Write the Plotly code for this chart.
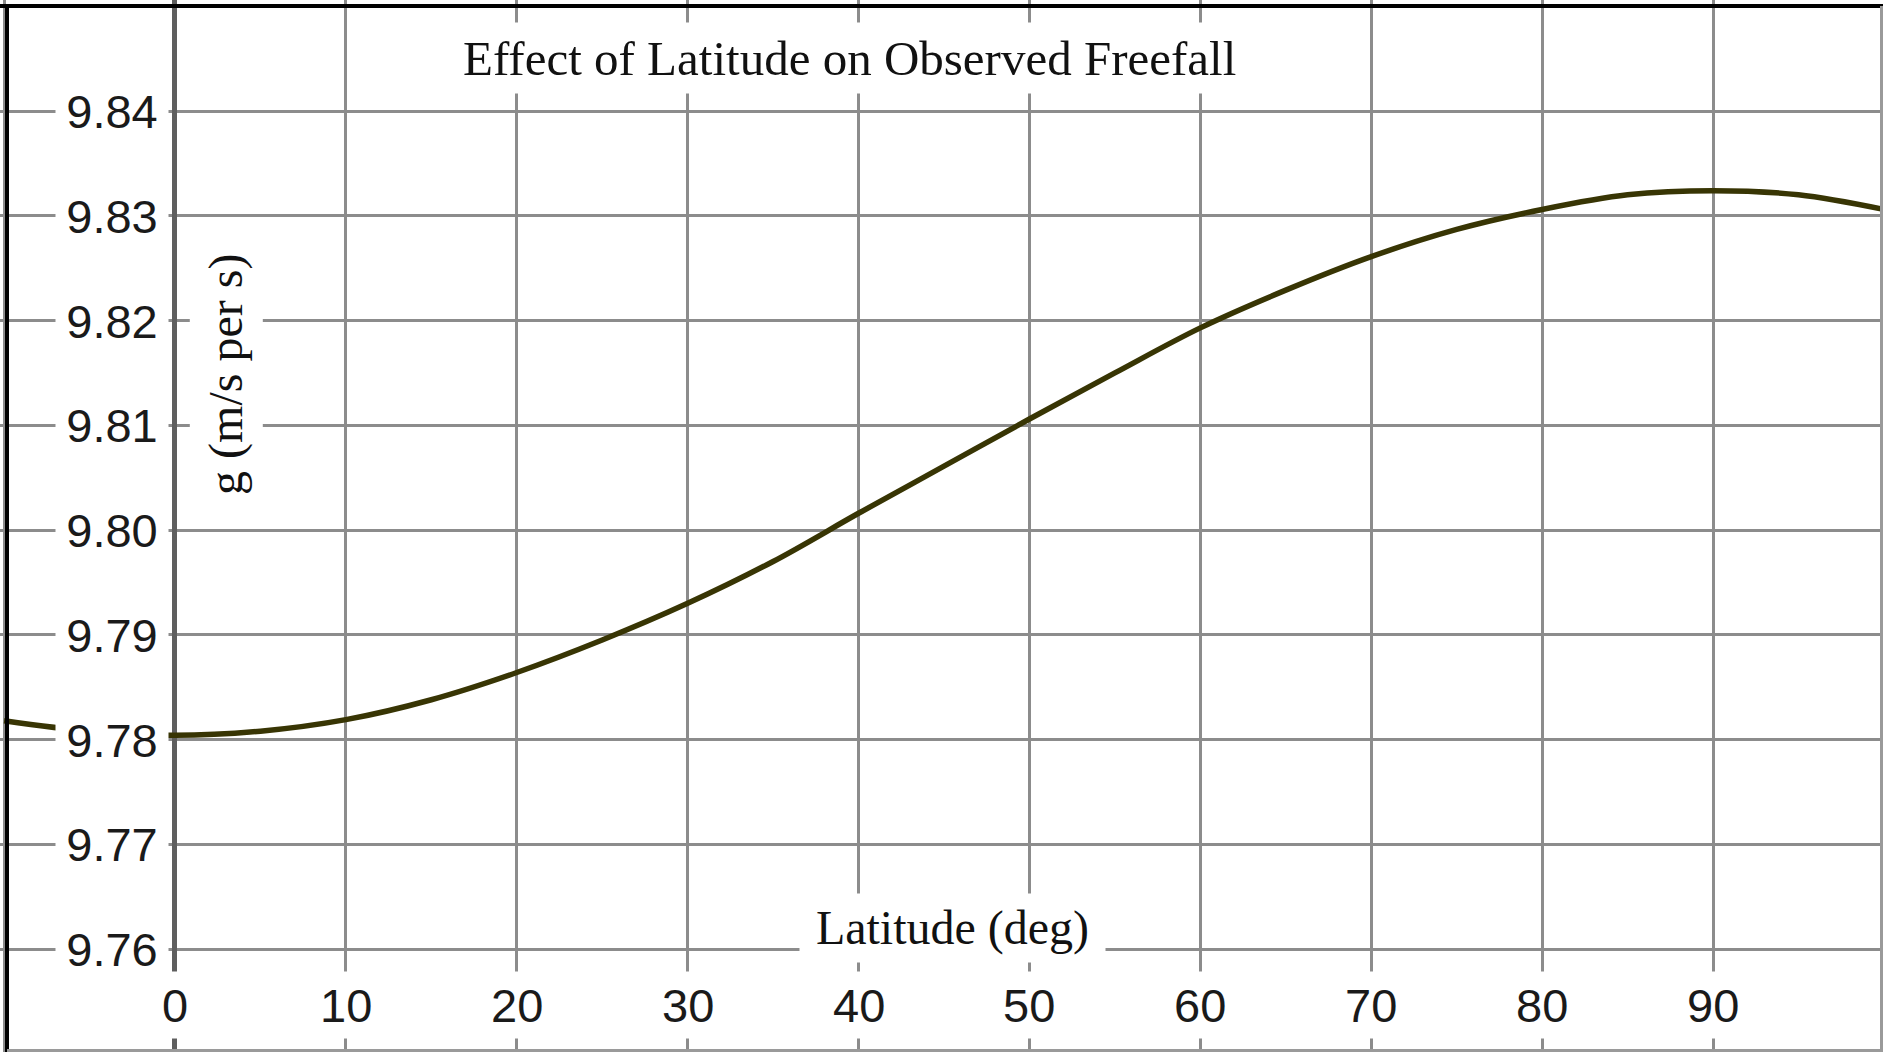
import plotly.graph_objects as go

# ---- data ----
latitude = [-10, -5, 0, 5, 10, 15, 20, 25, 30, 35, 40, 45, 50, 55, 60, 65, 70, 75, 80, 85, 90, 95, 100]
g_values = [9.7818, 9.7808, 9.7804, 9.7808, 9.7819, 9.7838, 9.7864, 9.7895, 9.7930, 9.7970,
            9.8016, 9.8061, 9.8106, 9.8150, 9.8193, 9.8229, 9.8261, 9.8287, 9.8306, 9.8320,
            9.8324, 9.8320, 9.8306]

x_ticks = [0, 10, 20, 30, 40, 50, 60, 70, 80, 90]
x_tick_labels = ["0", "10", "20", "30", "40", "50", "60", "70", "80", "90"]
y_ticks = [9.76, 9.77, 9.78, 9.79, 9.80, 9.81, 9.82, 9.83, 9.84]
y_tick_labels = ["9.76", "9.77", "9.78", "9.79", "9.80", "9.81", "9.82", "9.83", "9.84"]

title_text = "Effect of Latitude on Observed Freefall"
x_title = "Latitude (deg)"
y_title = "g (m/s per s)"

W, H = 1883, 1052
X_RANGE = [-10.24, 99.947]
Y_RANGE = [9.75017, 9.85060]

GRID = "#8c8c8c"
CURVE = "#383504"
SERIF = "Liberation Serif, Times New Roman, serif"
SANS = "Liberation Sans, Arial, sans-serif"

fig = go.Figure()
fig.add_trace(go.Scatter(
    x=latitude, y=g_values, mode="lines",
    line=dict(color=CURVE, width=5.5, shape="spline", smoothing=1.0),
    hoverinfo="skip", showlegend=False,
))

annotations = []
# y tick labels (left of the vertical axis, white boxes)
for v, lab in zip(y_ticks, y_tick_labels):
    annotations.append(dict(
        x=-3.7, y=v, xref="x", yref="y", text=lab, showarrow=False,
        font=dict(family=SANS, size=47, color="#1a1a1a"),
        bgcolor="white", width=112, height=52, borderpad=0,
        xanchor="center", yanchor="middle",
    ))
# x tick labels (below the 9.76 line, white boxes)
for v, lab in zip(x_ticks, x_tick_labels):
    annotations.append(dict(
        x=v, y=9.7547, xref="x", yref="y", text=lab, showarrow=False,
        font=dict(family=SANS, size=47, color="#1a1a1a"),
        bgcolor="white", height=62, borderpad=2,
        xanchor="center", yanchor="middle",
    ))
# title
annotations.append(dict(
    x=39.45, y=9.8451, xref="x", yref="y", text=title_text, showarrow=False,
    font=dict(family=SERIF, size=49, color="#111"),
    bgcolor="white", height=62, borderpad=4,
    xanchor="center", yanchor="middle",
))
# x-axis title
annotations.append(dict(
    x=45.5, y=9.7620, xref="x", yref="y", text=x_title, showarrow=False,
    font=dict(family=SERIF, size=48, color="#111"),
    bgcolor="white", width=305, height=68, borderpad=0,
    xanchor="center", yanchor="middle",
))
# y-axis title
annotations.append(dict(
    x=3.0, y=9.8149, xref="x", yref="y", text=y_title, showarrow=False,
    font=dict(family=SERIF, size=48, color="#111"),
    bgcolor="white", width=262, height=72, borderpad=0, textangle=-90,
    xanchor="center", yanchor="middle",
))

shapes = [
    # black frame (top and left), grey frame (right and bottom)
    dict(type="line", xref="paper", yref="paper", x0=0, x1=1, y0=1 - 6 / H, y1=1 - 6 / H,
         line=dict(color="black", width=4)),
    dict(type="line", xref="paper", yref="paper", x0=7 / W, x1=7 / W, y0=0, y1=1 - 4 / H,
         line=dict(color="black", width=4)),
    dict(type="line", xref="paper", yref="paper", x0=1 - 1.5 / W, x1=1 - 1.5 / W, y0=0, y1=1 - 6 / H,
         line=dict(color="#9a9a9a", width=3)),
    dict(type="line", xref="paper", yref="paper", x0=7 / W, x1=1, y0=1.5 / H, y1=1.5 / H,
         line=dict(color="#9a9a9a", width=3)),
]

fig.update_layout(
    width=W, height=H,
    margin=dict(l=0, r=0, t=0, b=0, pad=0),
    paper_bgcolor="white", plot_bgcolor="white",
    showlegend=False,
    annotations=annotations,
    shapes=shapes,
    xaxis=dict(range=X_RANGE, tick0=0, dtick=10, showticklabels=False, ticks="",
               showgrid=True, gridcolor=GRID, gridwidth=2.5,
               zeroline=True, zerolinecolor="#5e5e5e", zerolinewidth=5,
               showline=False, fixedrange=True),
    yaxis=dict(range=Y_RANGE, tick0=9.76, dtick=0.01, showticklabels=False, ticks="",
               showgrid=True, gridcolor=GRID, gridwidth=2.5,
               zeroline=False, showline=False, fixedrange=True),
)

fig.write_html("out.html", config={"displayModeBar": False},
               post_script="document.body.style.margin='0';document.body.style.overflow='hidden';")
